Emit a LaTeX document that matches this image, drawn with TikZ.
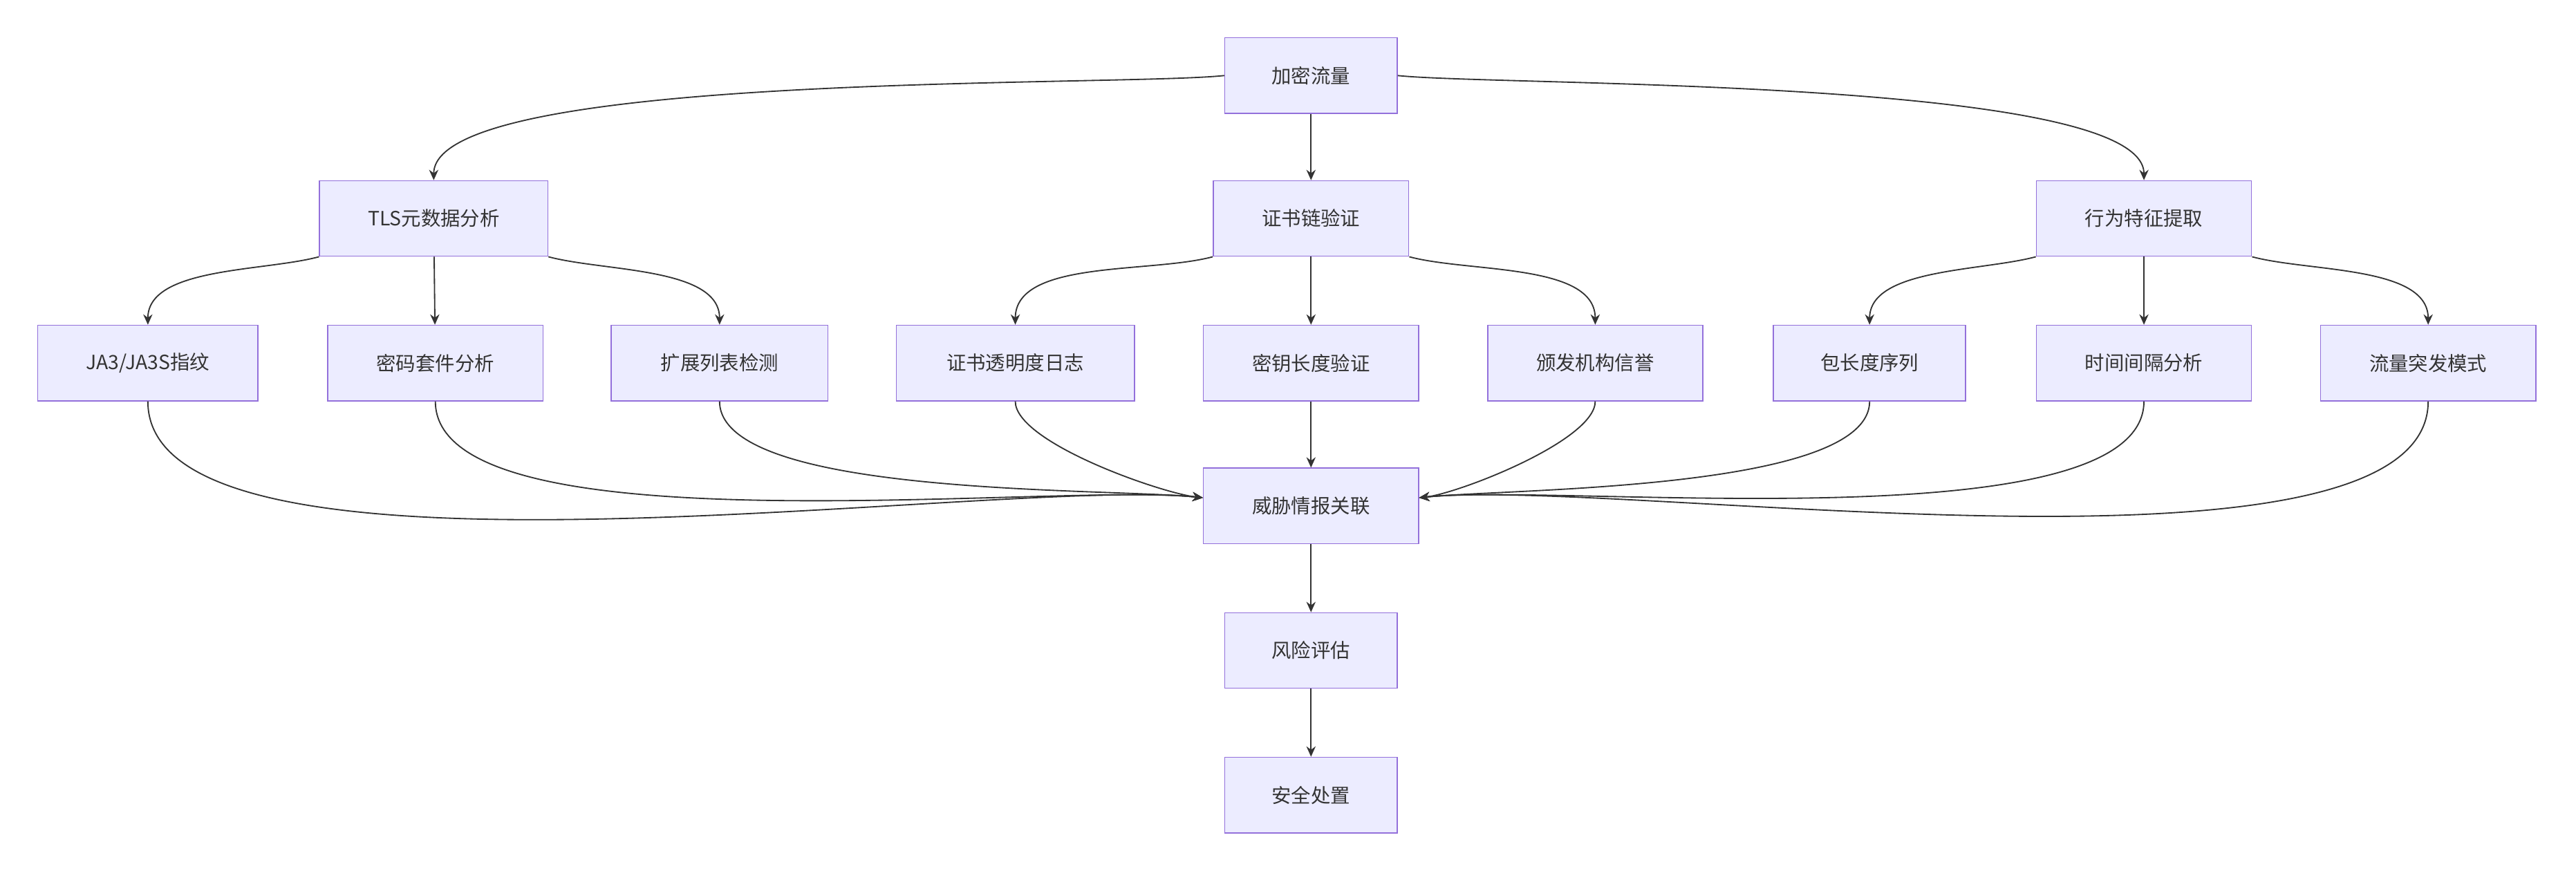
\documentclass[tikz,border=0pt]{standalone}
\usepackage{fontspec}
\setmainfont{Noto Sans CJK SC}
\usetikzlibrary{arrows.meta}
\begin{document}
\begin{tikzpicture}[x=0.05cm,y=-0.05cm]
  \tikzset{box/.style={draw=boxline, fill=boxfill, text=txt, line width=0.9pt,
      minimum height=2.3cm, inner sep=0pt, font=\fontsize{17}{20}\selectfont},
    link/.style={draw=txt, line width=1.1pt, -{Stealth[length=9pt,width=8pt]}}}
  \definecolor{boxfill}{HTML}{ECECFF}
  \definecolor{boxline}{HTML}{9370DB}
  \definecolor{txt}{HTML}{333333}
  \useasboundingbox (0,0) rectangle (1568,530);
  % top and second row
  \node[box, minimum width=5.25cm] (flow) at (798,46) {加密流量};
  \node[box, minimum width=6.95cm] (tls) at (264,133) {TLS元数据分析};
  \node[box, minimum width=5.95cm] (cert) at (798,133) {证书链验证};
  \node[box, minimum width=6.55cm] (beh) at (1305,133) {行为特征提取};
  % third row
  \node[box, minimum width=6.7cm] (ja) at (90,221) {JA3/JA3S指纹};
  \node[box, minimum width=6.55cm] (suite) at (265,221) {密码套件分析};
  \node[box, minimum width=6.6cm] (ext) at (438,221) {扩展列表检测};
  \node[box, minimum width=7.25cm] (ct) at (618,221) {证书透明度日志};
  \node[box, minimum width=6.55cm] (key) at (798,221) {密钥长度验证};
  \node[box, minimum width=6.55cm] (ca) at (971,221) {颁发机构信誉};
  \node[box, minimum width=5.85cm] (pkt) at (1138,221) {包长度序列};
  \node[box, minimum width=6.55cm] (time) at (1305,221) {时间间隔分析};
  \node[box, minimum width=6.55cm] (burst) at (1478,221) {流量突发模式};
  % bottom chain
  \node[box, minimum width=6.55cm] (intel) at (798,308) {威胁情报关联};
  \node[box, minimum width=5.25cm] (risk) at (798,396) {风险评估};
  \node[box, minimum width=5.25cm] (act) at (798,484) {安全处置};
  % fan out
  \draw[link] (flow.west) to[out=186,in=90,looseness=0.35] (tls.north);
  \draw[link] (flow) -- (cert);
  \draw[link] (flow.east) to[out=-6,in=90,looseness=0.35] (beh.north);
  \foreach \p/\l/\m/\r in {tls/ja/suite/ext, cert/ct/key/ca, beh/pkt/time/burst} {
    \draw[link] (\p.south west) to[out=195,in=90,looseness=0.8] (\l.north);
    \draw[link] (\p) -- (\m);
    \draw[link] (\p.south east) to[out=-15,in=90,looseness=0.8] (\r.north);
  }
  % fan in
  \foreach \c in {ja, suite, ext, ct}
    \draw[link] (\c.south) to[out=-90,in=174,looseness=0.5] ([yshift=0.25cm]intel.west);
  \foreach \c in {ca, pkt, time, burst}
    \draw[link] (\c.south) to[out=-90,in=6,looseness=0.5] ([yshift=0.25cm]intel.east);
  \draw[link] (key) -- (intel);
  \draw[link] (intel) -- (risk);
  \draw[link] (risk) -- (act);
\end{tikzpicture}
\end{document}
